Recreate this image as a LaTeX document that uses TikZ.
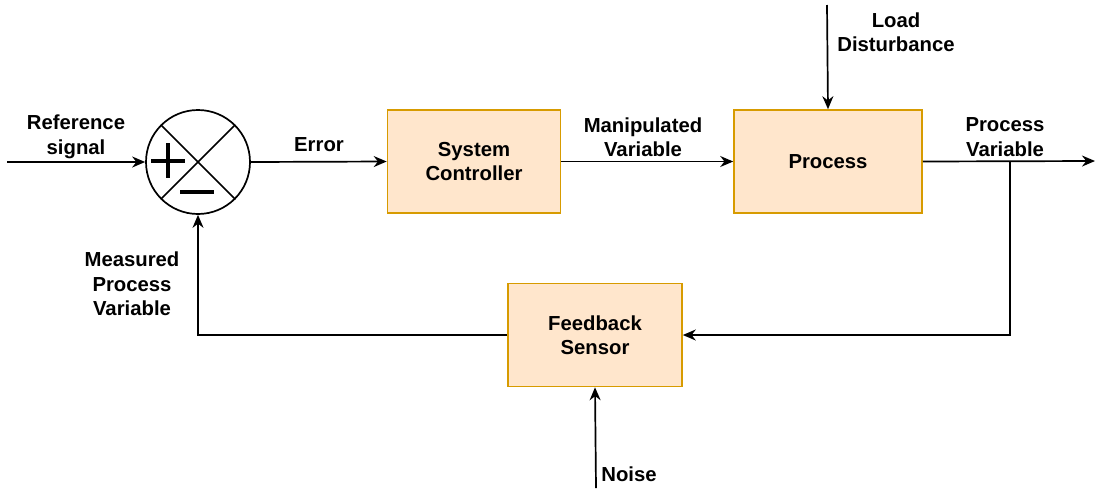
\documentclass[tikz,border=0pt]{standalone}
\usepackage{fontspec}
\setmainfont{Liberation Sans}
\usetikzlibrary{arrows.meta}
\definecolor{boxfill}{HTML}{FFE6CC}
\definecolor{boxdraw}{HTML}{D79B00}
\begin{document}
\begin{tikzpicture}[x=1pt,y=-1pt,
  txt/.style={align=center, font=\fontsize{20.3}{24.5}\selectfont\bfseries, inner sep=0pt},
  blk/.style={txt, draw=boxdraw, fill=boxfill, line width=1.6pt, minimum height=103pt},
  conn/.style={line width=1.7pt, -{Stealth[length=13pt,width=11pt]}},
  sign/.style={line width=3.6pt}]
\useasboundingbox (0,0) rectangle (1097,488);
% blocks
\node[blk, minimum width=173pt] (ctrl) at (474,161.5) {System\\Controller};
\node[blk, minimum width=188pt] (proc) at (828,161.5) {Process};
\node[blk, minimum width=174pt] (fb) at (595,335) {Feedback\\Sensor};
% summing junction
\node[circle, draw, line width=1.7pt, minimum size=104pt, inner sep=0pt] (sum) at (198,162) {};
\draw[line width=1.7pt] (sum.45) -- (sum.225) (sum.135) -- (sum.-45);
\draw[sign] (151,161) -- (185,161) (168,143) -- (168,178);
\draw[sign] (180,192) -- (214,192);
% free ends
\coordinate (refin) at (7,162);
\coordinate (out) at (1095,161);
\coordinate (branch) at (1010,161);
\coordinate (noise) at (596,488);
\coordinate (load) at (827,5);
% connectors
\draw[conn] (refin) -- (sum.west);
\draw[conn] (sum.east) -- (ctrl.west);
\draw[conn] (ctrl.east) -- (proc.west);
\draw[conn] (proc.east) -- (out);
\draw[conn] (branch) |- (fb.east);
\draw[conn] (fb.west) -| (sum.south);
\draw[conn] (noise) -- (fb.south);
\draw[conn] (load) -- (proc.north);
% labels
\node[txt] (lref) at (76,137) {Reference\\signal};
\node[txt] (lerr) at (319,145) {Error};
\node[txt] (lman) at (643,137) {Manipulated\\Variable};
\node[txt] (lload) at (896,32) {Load\\Disturbance};
\node[txt] (lpv) at (1005,137) {Process\\Variable};
\node[txt] (lmpv) at (132,284) {Measured\\Process\\Variable};
\node[txt] (lnoise) at (629,474) {Noise};
\end{tikzpicture}
\end{document}
